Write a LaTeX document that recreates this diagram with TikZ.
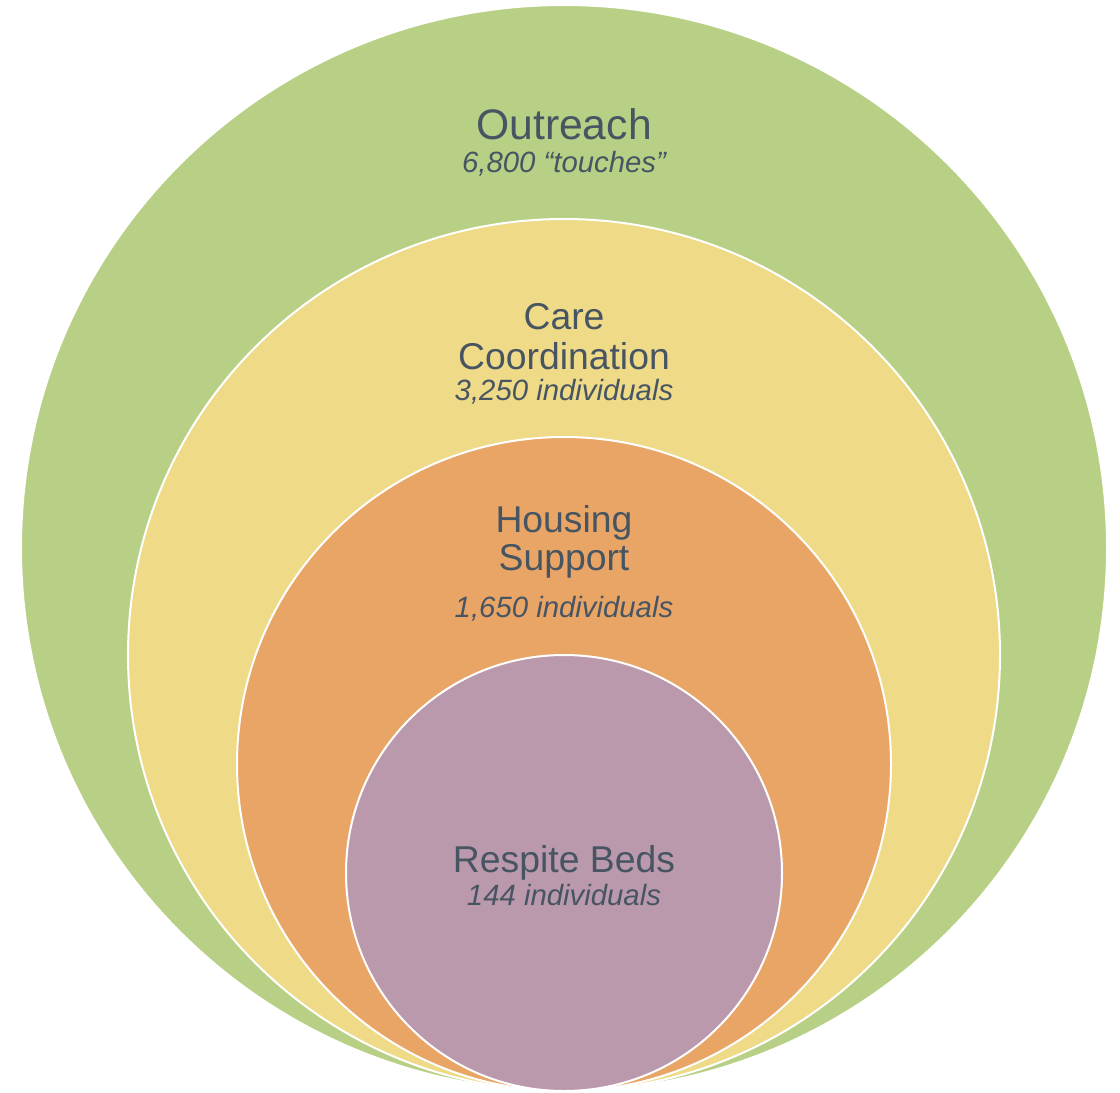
\documentclass[tikz,border=0pt]{standalone}
\usepackage{fontspec}
\setmainfont{Liberation Sans}
\definecolor{outreachgreen}{HTML}{B8D085}
\definecolor{careyellow}{HTML}{EFDA88}
\definecolor{housingorange}{HTML}{E9A566}
\definecolor{respitepurple}{HTML}{BB99AD}
\definecolor{labelgray}{HTML}{475563}
\begin{document}
\begin{tikzpicture}[x=0.75pt,y=-0.75pt,
  ring/.style={circle,draw=white,line width=1.5pt,inner sep=0pt},
  bigtitle/.style={anchor=base,text=labelgray,font=\fontsize{32}{36}\selectfont},
  title/.style={anchor=base,text=labelgray,font=\fontsize{28}{32}\selectfont},
  count/.style={anchor=base,text=labelgray,font=\fontsize{22}{24}\selectfont\itshape}]
\useasboundingbox (0,0) rectangle (1120,1092);
% rings, from outside to inside, all touching at the bottom
\foreach \name/\y/\r/\col in {outreach/548/543/outreachgreen, care/655/436/careyellow,
  housing/764/327/housingorange, respite/873/218/respitepurple}
  \node[ring,fill=\col,minimum size=2*\r*0.75pt] (\name) at (564,\y) {};
% labels
\node[bigtitle] (outreachtitle) at (564,139) {Outreach};
\node[count] (outreachcount) at (564,172) {6,800 “touches”};
\node[title] (caretitle) at (564,329) {Care};
\node[title] (caretitleb) at (564,369) {Coordination};
\node[count] (carecount) at (564,400) {3,250 individuals};
\node[title] (housingtitle) at (564,532) {Housing};
\node[title] (housingtitleb) at (564,570) {Support};
\node[count] (housingcount) at (564,617) {1,650 individuals};
\node[title] (respitetitle) at (564,872) {Respite Beds};
\node[count] (respitecount) at (564,905) {144 individuals};
\end{tikzpicture}
\end{document}
